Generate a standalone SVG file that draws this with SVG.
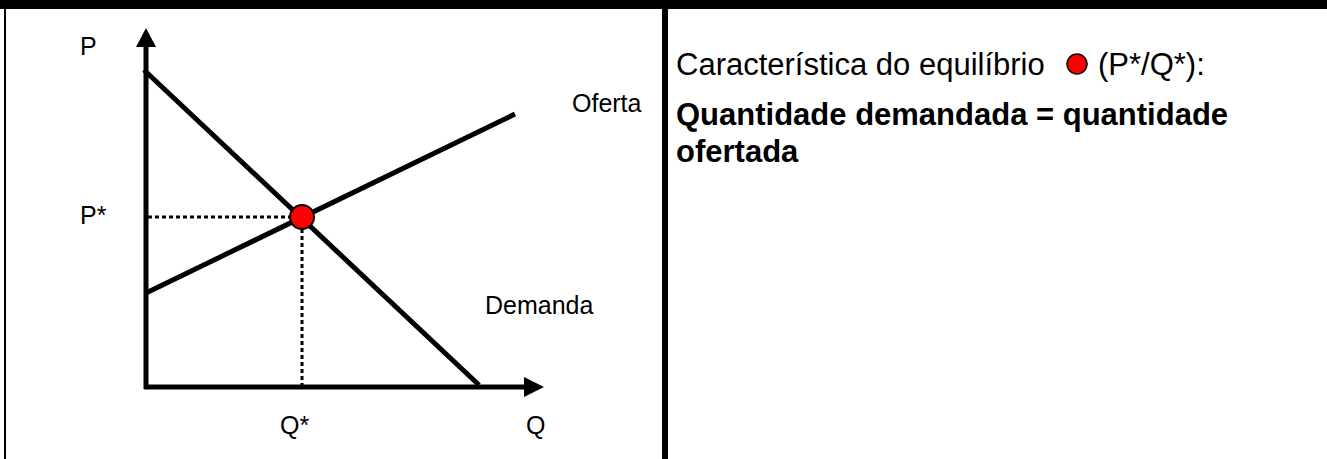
<svg xmlns="http://www.w3.org/2000/svg" width="1327" height="459" viewBox="0 0 1327 459">
<style>
.lbl{font-family:"Liberation Sans",Arial,sans-serif;font-size:25px;fill:#000}
.txt{font-family:"Liberation Sans",Arial,sans-serif;font-size:31px;fill:#000}
.b{font-weight:bold}
.ln{stroke:#000;stroke-width:5;fill:none}
.dot{stroke:#000;stroke-width:3;stroke-dasharray:4 3;fill:none}
</style>
<rect x="0" y="0" width="1327" height="459" fill="#fff"/>
<g id="frame">
<rect x="0" y="0" width="1327" height="9" fill="#000"/>
<rect x="4" y="0" width="2" height="459" fill="#000"/>
<rect x="662" y="0" width="6" height="459" fill="#000"/>
</g>
<g id="connectors">
<line class="ln" x1="146" y1="46" x2="146" y2="389"/>
<polygon points="136,47 156,47 146,28" fill="#000"/>
<line class="ln" x1="144" y1="387" x2="526" y2="387"/>
<polygon points="524,377 524,397 544,387" fill="#000"/>
<line class="ln" x1="144" y1="70" x2="479" y2="385"/>
<line class="ln" x1="146" y1="293" x2="515" y2="114"/>
<line class="dot" x1="148" y1="217" x2="292" y2="217"/>
<line class="dot" x1="302" y1="229" x2="302" y2="385"/>
</g>
<g id="equilibrium">
<circle cx="302" cy="217" r="12" fill="#f00" stroke="#000" stroke-width="2"/>
</g>
<g id="labels">
<text class="lbl" x="80" y="55">P</text>
<text class="lbl" x="572" y="112">Oferta</text>
<text class="lbl" x="80" y="224">P*</text>
<text class="lbl" x="485" y="314">Demanda</text>
<text class="lbl" x="280" y="434">Q*</text>
<text class="lbl" x="526" y="434">Q</text>
</g>
<g id="description">
<text class="txt" x="676" y="75">Característica do equilíbrio</text>
<circle cx="1077" cy="64" r="10" fill="#f00" stroke="#000" stroke-width="1.5"/>
<text class="txt" x="1098" y="75">(P*/Q*):</text>
<text class="txt b" x="676" y="125">Quantidade demandada = quantidade</text>
<text class="txt b" x="676" y="162">ofertada</text>
</g>
</svg>
